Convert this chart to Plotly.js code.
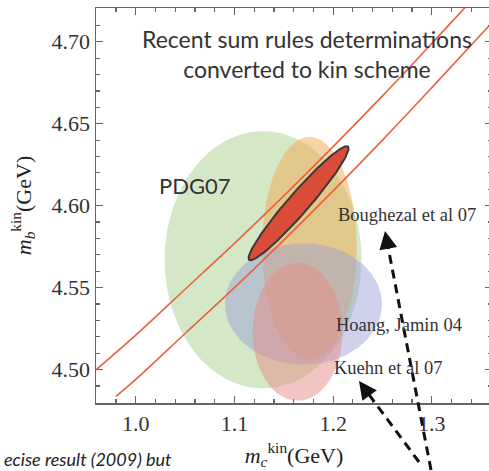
<!DOCTYPE html>
<html>
<head>
<meta charset="utf-8">
<script src="https://cdn.plot.ly/plotly-3.0.1.min.js"></script>
<style>
  html, body { margin: 0; padding: 0; background: #fff; overflow: hidden; }
  #chart { width: 492px; height: 471px; }
</style>
</head>
<body>
<div id="chart"></div>
<script>
// Sum-rule determinations of the b and c quark masses in the kinetic scheme
const groups   = ['PDG07', 'Boughezal et al 07', 'Hoang, Jamin 04', 'Kuehn et al 07', 'combined fit'];
const mcCentre = [1.129, 1.176, 1.170, 1.164, 1.165];
const mbCentre = [4.567, 4.574, 4.540, 4.523, 4.6015];
const mcError  = [0.0998, 0.048, 0.0795, 0.0456, 0.0507];
const mbError  = [0.0785, 0.068, 0.037, 0.042, 0.0348];
const mcMbCorr = [0, 0, 0, 0, 0.962];

// Band boundaries (m_b^kin versus m_c^kin)
const upperBandMc = [0.96, 1.00, 1.05, 1.10, 1.15, 1.20, 1.25, 1.30, 1.34];
const upperBandMb = [4.500, 4.521, 4.549, 4.577, 4.606, 4.636, 4.667, 4.699, 4.725];
const lowerBandMc = [0.98, 1.00, 1.05, 1.10, 1.15, 1.20, 1.25, 1.30, 1.36];
const lowerBandMb = [4.4837, 4.494, 4.522, 4.550, 4.579, 4.609, 4.640, 4.672, 4.711];

// Axis ticks
const mcTicks = [1.0, 1.1, 1.2, 1.3];
const mbTicks = [4.50, 4.55, 4.60, 4.65, 4.70];

const fills = [
  'rgba(160,205,130,0.45)',
  'rgba(240,170,80,0.50)',
  'rgba(150,155,215,0.45)',
  'rgba(230,140,135,0.50)',
  'rgb(218,76,56)'
];

// Outline of an error ellipse from centre, widths and correlation
function ellipse(i) {
  const xs = [], ys = [];
  const r = mcMbCorr[i], s = Math.sqrt(1 - r * r);
  for (let k = 0; k <= 200; k++) {
    const t = 2 * Math.PI * k / 200;
    xs.push(mcCentre[i] + mcError[i] * Math.cos(t));
    ys.push(mbCentre[i] + mbError[i] * (r * Math.cos(t) + s * Math.sin(t)));
  }
  return {x: xs, y: ys};
}

const traces = [];
for (let i = 0; i < groups.length; i++) {
  const e = ellipse(i);
  const last = i === groups.length - 1;
  traces.push({
    type: 'scatter', mode: 'lines', name: groups[i],
    x: e.x, y: e.y, fill: 'toself', fillcolor: fills[i],
    line: last ? {color: '#3a3a3a', width: 2} : {width: 0, color: 'rgba(0,0,0,0)'},
    hoverinfo: 'name'
  });
}
traces.push({type: 'scatter', mode: 'lines', x: upperBandMc, y: upperBandMb,
  line: {color: '#e8623f', width: 1.6, shape: 'spline'}, hoverinfo: 'skip'});
traces.push({type: 'scatter', mode: 'lines', x: lowerBandMc, y: lowerBandMb,
  line: {color: '#e8623f', width: 1.6, shape: 'spline'}, hoverinfo: 'skip'});

const serif = 'Liberation Serif, Times New Roman, serif';
const sans = 'Lato, Open Sans, sans-serif';
const axisCommon = {
  showgrid: false, zeroline: false,
  showline: true, linecolor: '#666', linewidth: 1.5, mirror: 'ticks',
  ticks: 'inside', ticklen: 7, tickwidth: 1.2, tickcolor: '#666',
  tickfont: {family: serif, size: 22, color: '#333'}
};

const layout = {
  width: 492, height: 471,
  margin: {l: 96, r: 0, t: 8, b: 68},
  paper_bgcolor: '#fff', plot_bgcolor: '#fff',
  showlegend: false,
  xaxis: Object.assign({}, axisCommon, {
    range: [0.9597, 1.361], tickvals: mcTicks, tickformat: '.1f',
    minor: {dtick: 0.02, tick0: 1.0, ticks: 'inside', ticklen: 4, tickwidth: 1.2, tickcolor: '#666', showgrid: false},
    title: {text: '<i>m</i><sub><i>c</i></sub><sup>kin</sup>(GeV)', font: {family: serif, size: 22, color: '#222'}, standoff: 12}
  }),
  yaxis: Object.assign({}, axisCommon, {
    range: [4.4796, 4.7206], tickvals: mbTicks, tickformat: '.2f',
    minor: {dtick: 0.01, tick0: 4.5, ticks: 'inside', ticklen: 4, tickwidth: 1.2, tickcolor: '#666', showgrid: false},
    title: {text: '<i>m</i><sub><i>b</i></sub><sup>kin</sup>(GeV)', font: {family: serif, size: 22, color: '#222'}, standoff: 14}
  }),
  annotations: [
    {x: 1.1736, y: 4.6925, xref: 'x', yref: 'y', showarrow: false,
     text: 'Recent sum rules determinations<br>converted to kin scheme',
     font: {family: sans, size: 23, color: '#333'}, align: 'center'},
    {x: 1.0216, y: 4.6126, xref: 'x', yref: 'y', xanchor: 'left', showarrow: false,
     text: 'PDG07', font: {family: sans, size: 22, color: '#333'}},
    {x: 1.2029, y: 4.5942, xref: 'x', yref: 'y', xanchor: 'left', showarrow: false,
     text: 'Boughezal et al 07', font: {family: serif, size: 18.5, color: '#333'}},
    {x: 1.2009, y: 4.5270, xref: 'x', yref: 'y', xanchor: 'left', showarrow: false,
     text: 'Hoang, Jamin 04', font: {family: serif, size: 18.5, color: '#333'}},
    {x: 1.1989, y: 4.5008, xref: 'x', yref: 'y', xanchor: 'left', showarrow: false,
     text: 'Kuehn et al 07', font: {family: serif, size: 18.5, color: '#333'}},
    {x: -0.238, y: -0.142, xref: 'paper', yref: 'paper', xanchor: 'left', yanchor: 'middle', showarrow: false,
     text: '<i>ecise result (2009) but</i>', font: {family: sans, size: 18, color: '#222'}},
    // arrow heads
    {x: 0.7298, y: 0.4354, xref: 'paper', yref: 'paper', text: '', showarrow: true,
     ax: 2.6, ay: 14, arrowhead: 2, arrowsize: 1.2, arrowwidth: 3, arrowcolor: '#111', standoff: 0},
    {x: 0.6641, y: 0.0557, xref: 'paper', yref: 'paper', text: '', showarrow: true,
     ax: 8.3, ay: 11.3, arrowhead: 2, arrowsize: 1.2, arrowwidth: 3, arrowcolor: '#111', standoff: 0}
  ],
  shapes: [
    {type: 'line', xref: 'paper', yref: 'paper', x0: 0.846, y0: -0.1696, x1: 0.7365, y1: 0.40,
     line: {color: '#111', width: 3, dash: '9px,6px'}},
    {type: 'line', xref: 'paper', yref: 'paper', x0: 0.8157, y0: -0.1494, x1: 0.680, y1: 0.034,
     line: {color: '#111', width: 3, dash: '9px,6px'}}
  ]
};

Plotly.newPlot('chart', traces, layout, {displayModeBar: false, staticPlot: true});
</script>
</body>
</html>
